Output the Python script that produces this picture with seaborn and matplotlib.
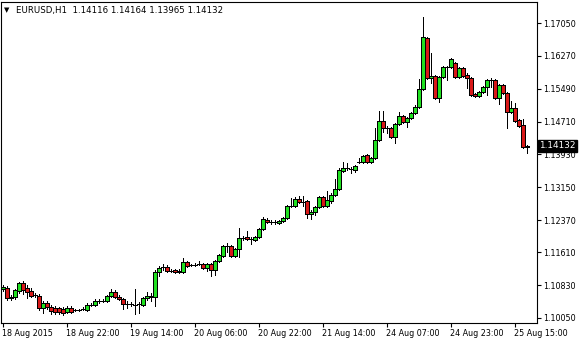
import numpy as np
import pandas as pd
import matplotlib
matplotlib.use("Agg")
import matplotlib.pyplot as plt
import matplotlib.transforms as mtransforms
import seaborn as sns

# ---- data (EURUSD H1) ----
opens = [1.10738, 1.10762, 1.10548, 1.10548, 1.10691, 1.10880, 1.10762, 1.10691, 1.10596, 1.10572,
         1.10287, 1.10406, 1.10311, 1.10287, 1.10287, 1.10263, 1.10192, 1.10287, 1.10240, 1.10245,
         1.10263, 1.10240, 1.10358, 1.10358, 1.10453, 1.10450, 1.10453, 1.10572, 1.10667, 1.10548,
         1.10501, 1.10382, 1.10386, 1.10358, 1.10382, 1.10358, 1.10524, 1.10548, 1.10548, 1.11141,
         1.11260, 1.11260, 1.11165, 1.11189, 1.11141, 1.11141, 1.11379, 1.11308, 1.11304, 1.11331,
         1.11331, 1.11236, 1.11331, 1.11189, 1.11403, 1.11521, 1.11758, 1.11758, 1.11521, 1.11687,
         1.11948, 1.11972, 1.11925, 1.11901, 1.11972, 1.12162, 1.12375, 1.12328, 1.12332, 1.12304,
         1.12352, 1.12423, 1.12708, 1.12708, 1.12874, 1.12803, 1.12826, 1.12518, 1.12565, 1.12684,
         1.12921, 1.12708, 1.12826, 1.12969, 1.13111, 1.13538, 1.13609, 1.13586, 1.13562, 1.13752,
         1.13752, 1.13918, 1.13752, 1.13847, 1.14274, 1.14725, 1.14559, 1.14559, 1.14345, 1.14654,
         1.14843, 1.14701, 1.14796, 1.14915, 1.15057, 1.15484, 1.16694, 1.15745, 1.15793, 1.15270,
         1.15769, 1.16006, 1.16006, 1.16101, 1.15769, 1.15982, 1.15816, 1.15745, 1.15365, 1.15318,
         1.15413, 1.15532, 1.15698, 1.15698, 1.15270, 1.15579, 1.15389, 1.14938, 1.15033, 1.14748,
         1.14630, 1.14116]
highs = [1.10833, 1.10809, 1.10596, 1.10738, 1.10904, 1.10928, 1.10833, 1.10762, 1.10643, 1.10619,
         1.10453, 1.10453, 1.10358, 1.10335, 1.10311, 1.10311, 1.10335, 1.10335, 1.10263, 1.10263,
         1.10311, 1.10406, 1.10406, 1.10501, 1.10501, 1.10501, 1.10596, 1.10738, 1.10714, 1.10596,
         1.10524, 1.10453, 1.10430, 1.10738, 1.10430, 1.10548, 1.10667, 1.10643, 1.11189, 1.11284,
         1.11331, 1.11308, 1.11213, 1.11213, 1.11213, 1.11474, 1.11403, 1.11331, 1.11355, 1.11403,
         1.11355, 1.11355, 1.11355, 1.11426, 1.11569, 1.11782, 1.11830, 1.11782, 1.11711, 1.12186,
         1.11996, 1.12114, 1.11972, 1.11996, 1.12186, 1.12447, 1.12423, 1.12375, 1.12375, 1.12375,
         1.12447, 1.12731, 1.12898, 1.12921, 1.12945, 1.12945, 1.12850, 1.12613, 1.12708, 1.12945,
         1.12945, 1.13064, 1.13016, 1.13348, 1.13609, 1.13752, 1.13728, 1.13633, 1.13681, 1.13847,
         1.13918, 1.13942, 1.13870, 1.14559, 1.14962, 1.14962, 1.14606, 1.14582, 1.14677, 1.14938,
         1.14867, 1.14820, 1.14938, 1.15104, 1.15721, 1.17193, 1.16718, 1.16338, 1.15816, 1.15793,
         1.16030, 1.16030, 1.16220, 1.16125, 1.16006, 1.16006, 1.15864, 1.15769, 1.15389, 1.15437,
         1.15555, 1.15721, 1.15745, 1.15721, 1.15603, 1.15603, 1.15413, 1.15199, 1.15152, 1.14772,
         1.14772, 1.14164]
lows = [1.10691, 1.10477, 1.10477, 1.10501, 1.10643, 1.10619, 1.10524, 1.10548, 1.10548, 1.10240,
        1.10168, 1.10263, 1.10145, 1.10145, 1.10145, 1.10121, 1.10168, 1.10168, 1.10216, 1.10216,
        1.10240, 1.10216, 1.10335, 1.10335, 1.10406, 1.10430, 1.10430, 1.10548, 1.10524, 1.10477,
        1.10263, 1.10287, 1.10335, 1.10145, 1.10168, 1.10335, 1.10477, 1.10453, 1.10335, 1.11047,
        1.11189, 1.11141, 1.11141, 1.11118, 1.11118, 1.11118, 1.11260, 1.11284, 1.11284, 1.11308,
        1.11213, 1.11165, 1.11047, 1.11070, 1.11379, 1.11497, 1.11616, 1.11497, 1.11497, 1.11497,
        1.11901, 1.11901, 1.11806, 1.11877, 1.11948, 1.12138, 1.12304, 1.12280, 1.12280, 1.12280,
        1.12328, 1.12399, 1.12684, 1.12684, 1.12779, 1.12708, 1.12423, 1.12399, 1.12494, 1.12660,
        1.12684, 1.12684, 1.12779, 1.12945, 1.13087, 1.13514, 1.13562, 1.13491, 1.13514, 1.13728,
        1.13728, 1.13728, 1.13728, 1.13823, 1.14250, 1.14464, 1.14440, 1.14321, 1.14203, 1.14630,
        1.14677, 1.14582, 1.14772, 1.14891, 1.15033, 1.15460, 1.15721, 1.15626, 1.15247, 1.15176,
        1.15745, 1.15698, 1.15982, 1.15745, 1.15745, 1.15769, 1.15508, 1.15318, 1.15294, 1.15294,
        1.15389, 1.15342, 1.15532, 1.15247, 1.15128, 1.15365, 1.14559, 1.14915, 1.14701, 1.14582,
        1.14084, 1.13965]
closes = [1.10786, 1.10524, 1.10524, 1.10714, 1.10880, 1.10714, 1.10667, 1.10572, 1.10590, 1.10287,
          1.10406, 1.10311, 1.10216, 1.10192, 1.10192, 1.10168, 1.10287, 1.10192, 1.10245, 1.10240,
          1.10268, 1.10358, 1.10362, 1.10453, 1.10450, 1.10455, 1.10572, 1.10667, 1.10548, 1.10501,
          1.10382, 1.10386, 1.10380, 1.10362, 1.10378, 1.10524, 1.10572, 1.10572, 1.11141, 1.11236,
          1.11264, 1.11165, 1.11160, 1.11141, 1.11165, 1.11379, 1.11284, 1.11304, 1.11310, 1.11335,
          1.11236, 1.11331, 1.11189, 1.11403, 1.11545, 1.11758, 1.11762, 1.11521, 1.11687, 1.11948,
          1.11944, 1.11925, 1.11929, 1.11972, 1.12162, 1.12399, 1.12328, 1.12332, 1.12326, 1.12352,
          1.12423, 1.12708, 1.12712, 1.12874, 1.12803, 1.12807, 1.12518, 1.12565, 1.12684, 1.12921,
          1.12708, 1.12850, 1.12969, 1.13111, 1.13562, 1.13609, 1.13605, 1.13590, 1.13657, 1.13756,
          1.13894, 1.13752, 1.13847, 1.14274, 1.14725, 1.14559, 1.14555, 1.14345, 1.14654, 1.14843,
          1.14701, 1.14796, 1.14915, 1.15057, 1.15484, 1.16718, 1.15745, 1.15793, 1.15270, 1.15769,
          1.16006, 1.16010, 1.16196, 1.15769, 1.15982, 1.15793, 1.15745, 1.15342, 1.15318, 1.15413,
          1.15532, 1.15698, 1.15702, 1.15270, 1.15579, 1.15389, 1.14938, 1.15033, 1.14725, 1.14606,
          1.14108, 1.14132]

xtick_pos = [0, 16, 32, 48, 64, 80, 96, 112, 128]
xtick_labels = ["18 Aug 2015", "18 Aug 22:00", "19 Aug 14:00", "20 Aug 06:00", "20 Aug 22:00",
                "21 Aug 14:00", "24 Aug 07:00", "24 Aug 23:00", "25 Aug 15:00"]
ytick_vals = [1.17050, 1.16270, 1.15490, 1.14710, 1.13930, 1.13150, 1.12370, 1.11610, 1.10830, 1.10050]
symbol = "EURUSD,H1"
last_price = 1.14132

# ---- build table ----
df = pd.DataFrame({"open": opens, "high": highs, "low": lows, "close": closes})
df["i"] = np.arange(len(df))
df["bull"] = df["close"] >= df["open"]

sns.set_theme(style="white")
plt.rcParams['font.family'] = ['DejaVu Sans']

FS = 5.8
fig = plt.figure(figsize=(5.8, 3.4), dpi=100)
fig.patch.set_facecolor("white")
ax = fig.add_axes([1 / 580, 17 / 340, 536 / 580, 321 / 340])
ax.set_facecolor("white")

# wicks
ax.vlines(df["i"], df["low"], df["high"], color="black", linewidth=0.55, zorder=1,
          antialiased=False)
# bodies
body_colors = np.where(df["bull"], "#20e020", "#d81818")
ax.bar(df["i"], df["close"] - df["open"], bottom=df["open"], width=0.76,
       color=body_colors, edgecolor="black", linewidth=0.5, zorder=2, antialiased=False)

ax.set_xlim(-0.5, 133.5)
ax.set_ylim(1.09931, 1.17549)

# y axis on the right
ax.yaxis.tick_right()
ax.set_yticks(ytick_vals)
ax.set_yticklabels([f"{v:.5f}" for v in ytick_vals])
ax.tick_params(axis="y", which="both", direction="out", length=3, width=0.8, pad=1.5,
               labelsize=FS, colors="black", right=True, left=False)

ax.set_xticks(xtick_pos)
ax.set_xticklabels(xtick_labels)
ax.tick_params(axis="x", direction="out", length=3, width=0.8, pad=1.5,
               labelsize=FS, colors="black", bottom=True)
offset = mtransforms.ScaledTranslation(-1 / 100, 0, fig.dpi_scale_trans)
for lbl in ax.get_xticklabels():
    lbl.set_ha("left")
    lbl.set_transform(lbl.get_transform() + offset)

for sp in ax.spines.values():
    sp.set_visible(True)
    sp.set_color("black")
    sp.set_linewidth(0.8)
ax.grid(False)

# header text
fig.text(4 / 580, 1 - 10 / 340, "\u25bc", fontsize=5, va="center", ha="left", color="black")
fig.text(16 / 580, 1 - 10 / 340,
         f"{symbol}  {opens[-1]:.5f} {highs[-1]:.5f} {lows[-1]:.5f} {closes[-1]:.5f}",
         fontsize=FS + 0.4, va="center", ha="left", color="black")

# current price label
trans = mtransforms.blended_transform_factory(ax.transAxes, ax.transData)
ax.text(1.0 + 2.5 / 536, last_price, f"{last_price:.5f}", transform=trans,
        fontsize=FS + 0.6, color="white", va="center", ha="left", zorder=10, clip_on=False,
        bbox=dict(boxstyle="square,pad=0.15", facecolor="black", edgecolor="black"))

fig.savefig("out.png", dpi=100, facecolor="white")
